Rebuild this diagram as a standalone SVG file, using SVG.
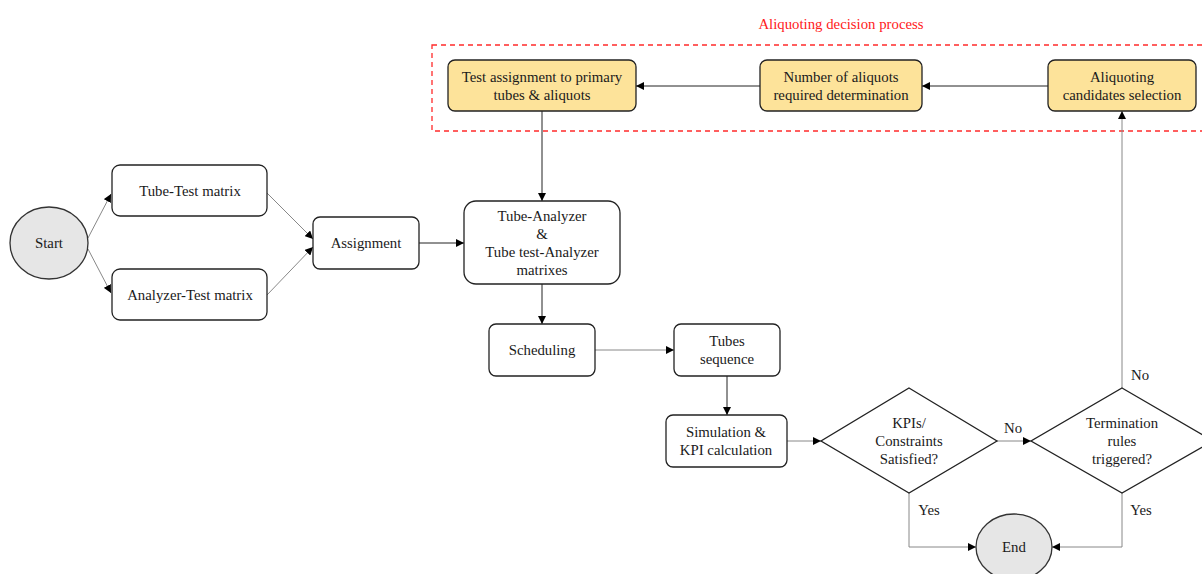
<svg xmlns="http://www.w3.org/2000/svg" width="1202" height="574" viewBox="0 0 1202 574">
<style>
text{font-family:'Liberation Serif','DejaVu Serif',serif;font-size:14.8px;fill:#1a1a1a;text-anchor:middle;dominant-baseline:central}
.box{fill:#fff;stroke:#222;stroke-width:1.3}
.ybox{fill:#fde39a;stroke:#222;stroke-width:1.3}
.term{fill:#e6e6e6;stroke:#333;stroke-width:1.3}
.c{fill:none;stroke:#222;stroke-width:1}
.g{fill:none;stroke:#888;stroke-width:1}
</style>
<defs>
<marker id="ah" viewBox="0 0 10 10" refX="10" refY="5" markerWidth="8" markerHeight="8" markerUnits="userSpaceOnUse" orient="auto"><path d="M0,0 L10,5 L0,10 z" fill="#000"/></marker>
</defs>
<g font-family="Liberation Serif, serif">
<text x="841" y="24" style="fill:#ff2020">Aliquoting decision process</text>
<rect x="432" y="45" width="780" height="86" fill="none" stroke="#ff2a2a" stroke-width="1.3" stroke-dasharray="5,4"/>
<g id="connectors">
<path class="c" d="M1048,86 H922" marker-end="url(#ah)"/>
<path class="c" d="M760,86 H636" marker-end="url(#ah)"/>
<path class="c" d="M542,111 V201" marker-end="url(#ah)"/>
<path class="g" d="M88,238 L111,194" marker-end="url(#ah)"/>
<path class="g" d="M88,249 L111,293" marker-end="url(#ah)"/>
<path class="g" d="M267,193 L313,239" marker-end="url(#ah)"/>
<path class="g" d="M267,295 L313,247" marker-end="url(#ah)"/>
<path class="c" d="M419,243 H464" marker-end="url(#ah)"/>
<path class="c" d="M542,284 V324" marker-end="url(#ah)"/>
<path class="g" d="M595,350 H674" marker-end="url(#ah)"/>
<path class="c" d="M727,376 V415" marker-end="url(#ah)"/>
<path class="g" d="M787,441 H821" marker-end="url(#ah)"/>
<path class="g" d="M997,441 H1031" marker-end="url(#ah)"/>
<path class="g" d="M909,493 V547 H976" marker-end="url(#ah)"/>
<path class="g" d="M1122,493 V547 H1052" marker-end="url(#ah)"/>
<path class="g" d="M1122,388 V111" marker-end="url(#ah)"/>
<text x="1013" y="428">No</text>
<text x="929" y="510">Yes</text>
<text x="1141" y="510">Yes</text>
<text x="1140" y="375">No</text>
</g>
<g id="box1"><rect class="ybox" x="448" y="60" width="188" height="51" rx="7"/><text x="542" y="77">Test assignment to primary</text><text x="542" y="95">tubes &amp; aliquots</text></g>
<g id="box2"><rect class="ybox" x="760" y="60" width="162" height="51" rx="7"/><text x="841" y="77">Number of aliquots</text><text x="841" y="95">required determination</text></g>
<g id="box3"><rect class="ybox" x="1048" y="60" width="148" height="51" rx="7"/><text x="1122" y="77">Aliquoting</text><text x="1122" y="95">candidates selection</text></g>
<g id="start"><ellipse class="term" cx="49" cy="243" rx="39" ry="36"/><text x="49" y="243">Start</text></g>
<g id="tubetest"><rect class="box" x="112" y="165" width="155" height="51" rx="8"/><text x="190" y="191">Tube-Test matrix</text></g>
<g id="analyzertest"><rect class="box" x="112" y="269" width="155" height="51" rx="8"/><text x="190" y="295">Analyzer-Test matrix</text></g>
<g id="assignment"><rect class="box" x="313" y="217" width="106" height="52" rx="7"/><text x="366" y="243">Assignment</text></g>
<g id="tubeanalyzer"><rect class="box" x="464" y="201" width="156" height="83" rx="12"/><text x="542" y="216">Tube-Analyzer</text><text x="542" y="234">&amp;</text><text x="542" y="252">Tube test-Analyzer</text><text x="542" y="270">matrixes</text></g>
<g id="scheduling"><rect class="box" x="489" y="324" width="106" height="52" rx="7"/><text x="542" y="350">Scheduling</text></g>
<g id="tubesseq"><rect class="box" x="674" y="324" width="106" height="52" rx="7"/><text x="727" y="341">Tubes</text><text x="727" y="359">sequence</text></g>
<g id="simulation"><rect class="box" x="666" y="415" width="121" height="52" rx="7"/><text x="726" y="432">Simulation &amp;</text><text x="726" y="450">KPI calculation</text></g>
<g id="kpi"><polygon class="box" points="909,388 997,441 909,493 821,441"/><text x="909" y="423">KPIs/</text><text x="909" y="441">Constraints</text><text x="909" y="459">Satisfied?</text></g>
<g id="termination"><polygon class="box" points="1122,388 1213,441 1122,493 1031,441"/><text x="1122" y="423">Termination</text><text x="1122" y="441">rules</text><text x="1122" y="459">triggered?</text></g>
<g id="end"><ellipse class="term" cx="1014" cy="547" rx="38" ry="33"/><text x="1014" y="547">End</text></g>
</g>
</svg>
